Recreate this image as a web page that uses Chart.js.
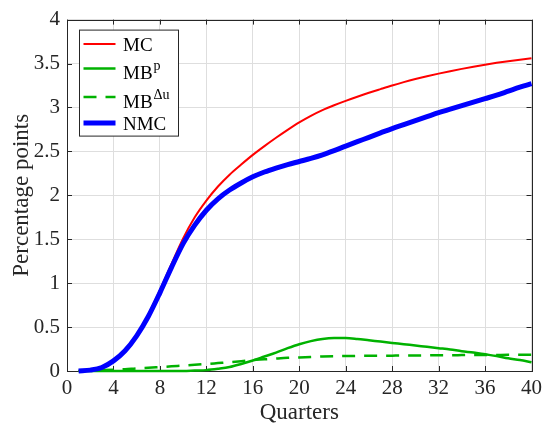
<!DOCTYPE html>
<html>
<head>
<meta charset="utf-8">
<script src="https://cdn.jsdelivr.net/npm/chart.js@4"></script>
<style>
  body { margin: 0; background: #fff; }
  canvas { display: block; }
</style>
</head>
<body>
<canvas id="Mychart" width="547" height="429"></canvas>
<script>
// quarters 1..40
var quarters = [];
for (var q = 1; q <= 40; q++) quarters.push(q);

var mcValues = [0.00, 0.01, 0.045, 0.12, 0.24, 0.41, 0.64, 0.92, 1.22, 1.51,
                1.75, 1.94, 2.10, 2.235, 2.35, 2.46, 2.56, 2.655, 2.745, 2.83,
                2.905, 2.97, 3.025, 3.075, 3.122, 3.167, 3.209, 3.25, 3.288, 3.323,
                3.355, 3.385, 3.413, 3.439, 3.464, 3.487, 3.508, 3.527, 3.544, 3.56];
var mbpValues = [0, 0, 0, 0, 0, 0, 0, 0, 0, 0,
                 0.005, 0.01, 0.025, 0.045, 0.08, 0.12, 0.165, 0.21, 0.26, 0.305,
                 0.34, 0.365, 0.375, 0.375, 0.365, 0.35, 0.335, 0.32, 0.305, 0.29,
                 0.275, 0.26, 0.245, 0.225, 0.21, 0.19, 0.17, 0.145, 0.125, 0.10];
var mbduValues = [0.00, 0.005, 0.01, 0.015, 0.02, 0.03, 0.037, 0.045, 0.053, 0.062,
                  0.07, 0.08, 0.09, 0.10, 0.112, 0.125, 0.133, 0.142, 0.15, 0.155,
                  0.16, 0.165, 0.168, 0.17, 0.172, 0.173, 0.174, 0.175, 0.176, 0.177,
                  0.178, 0.18, 0.18, 0.181, 0.182, 0.182, 0.183, 0.184, 0.184, 0.185];
var nmcValues = [0.00, 0.01, 0.04, 0.115, 0.23, 0.40, 0.62, 0.89, 1.18, 1.45,
                 1.66, 1.83, 1.96, 2.06, 2.14, 2.21, 2.265, 2.31, 2.35, 2.385,
                 2.42, 2.46, 2.508, 2.56, 2.61, 2.66, 2.71, 2.76, 2.805, 2.85,
                 2.895, 2.94, 2.98, 3.02, 3.06, 3.10, 3.14, 3.185, 3.23, 3.27];

var seriesNames = ['MC', 'MB', 'MB', 'NMC'];
var seriesSups = ['', 'p', '\u0394u', ''];

var xTicks = [0, 4, 8, 12, 16, 20, 24, 28, 32, 36, 40];
var yTicks = [0, 0.5, 1, 1.5, 2, 2.5, 3, 3.5, 4];

var axisColor = '#262626';
var gridColor = '#dedede';
var serif = "'Liberation Serif', 'Times New Roman', serif";
var green = 'rgb(0,178,0)';

function toPoints(vals) {
    return vals.map(function(v, i){ return {x: quarters[i], y: v}; });
}

var frame = {
    id: 'frame',
    beforeDatasetsDraw: function(chart) {
        var ctx = chart.ctx, a = chart.chartArea;
        var xs = chart.scales.x, ys = chart.scales.y;
        var tl = 5;
        ctx.save();
        ctx.strokeStyle = axisColor;
        ctx.lineWidth = 1;
        ctx.beginPath();
        xTicks.forEach(function(t){
            var px = Math.round(xs.getPixelForValue(t)) + 0.5;
            ctx.moveTo(px, a.bottom); ctx.lineTo(px, a.bottom - tl);
            ctx.moveTo(px, a.top); ctx.lineTo(px, a.top + tl);
        });
        yTicks.forEach(function(t){
            var py = Math.round(ys.getPixelForValue(t)) + 0.5;
            ctx.moveTo(a.left, py); ctx.lineTo(a.left + tl, py);
            ctx.moveTo(a.right, py); ctx.lineTo(a.right - tl, py);
        });
        ctx.stroke();
        ctx.strokeRect(Math.round(a.left) + 0.5, Math.round(a.top) + 0.5,
                       Math.round(a.right - a.left), Math.round(a.bottom - a.top));
        ctx.restore();
    },
    afterDatasetsDraw: function(chart) {
        // legend with superscripts, drawn by hand
        var ctx = chart.ctx, a = chart.chartArea;
        var bx = a.left + 12.5, by = a.top + 10.5, bw = 99, bh = 106;
        var rowY = [14, 38.5, 67, 93];
        var baseOff = [7, 10.5, 10.5, 7];
        ctx.save();
        ctx.fillStyle = '#fff';
        ctx.fillRect(bx, by, bw, bh);
        ctx.strokeStyle = axisColor;
        ctx.lineWidth = 1;
        ctx.strokeRect(bx, by, bw, bh);
        chart.data.datasets.forEach(function(ds, i){
            var y = by + rowY[i];
            ctx.strokeStyle = ds.borderColor;
            ctx.lineWidth = ds.borderWidth;
            ctx.setLineDash(ds.borderDash || []);
            ctx.beginPath();
            ctx.moveTo(bx + 4, y); ctx.lineTo(bx + 36, y);
            ctx.stroke();
            ctx.setLineDash([]);
            ctx.fillStyle = '#000';
            ctx.textBaseline = 'alphabetic';
            ctx.textAlign = 'left';
            ctx.font = '19px ' + serif;
            var tx = bx + 43.5;
            var base = by + rowY[i] + baseOff[i];
            ctx.fillText(seriesNames[i], tx, base);
            if (seriesSups[i]) {
                var w = ctx.measureText(seriesNames[i]).width;
                ctx.font = '14px ' + serif;
                ctx.fillText(seriesSups[i], tx + w + 1, base - 9);
            }
        });
        ctx.restore();
    }
};

const ctx = document.getElementById('Mychart');

var chart = new Chart(ctx, {
    type: 'line',
    data: {
        datasets: [{
            label: 'MC',
            data: toPoints(mcValues),
            borderColor: '#ff0000',
            borderWidth: 2,
            order: 4
        }, {
            label: 'MBp',
            data: toPoints(mbpValues),
            borderColor: green,
            borderWidth: 2.5,
            order: 3
        }, {
            label: 'MBdu',
            data: toPoints(mbduValues),
            borderColor: green,
            borderWidth: 2.5,
            borderDash: [13, 9],
            order: 2
        }, {
            label: 'NMC',
            data: toPoints(nmcValues),
            borderColor: '#0000ff',
            borderWidth: 5,
            order: 1
        }]
    },
    options: {
        responsive: false,
        animation: false,
        events: [],
        elements: {
            point: { radius: 0 },
            line: { cubicInterpolationMode: 'monotone', fill: false, borderCapStyle: 'butt' }
        },
        datasets: { line: { clip: false } },
        layout: { padding: { top: 14, right: 14, left: 0, bottom: 0 } },
        plugins: {
            legend: { display: false },
            tooltip: { enabled: false }
        },
        scales: {
            x: {
                type: 'linear',
                min: 0,
                max: 40,
                afterFit: function(s){ s.height = 58; },
                afterBuildTicks: function(s){ s.ticks = xTicks.map(function(v){ return {value: v}; }); },
                border: { display: false },
                grid: { color: gridColor, drawTicks: false },
                ticks: {
                    color: axisColor,
                    padding: 5,
                    maxRotation: 0,
                    autoSkip: false,
                    font: { family: serif, size: 21 },
                    callback: function(v){ return String(v); }
                },
                title: {
                    display: true,
                    text: 'Quarters',
                    color: axisColor,
                    padding: { top: 0, bottom: 2 },
                    font: { family: serif, size: 23 }
                }
            },
            y: {
                min: 0,
                max: 4,
                afterFit: function(s){ s.width = 67; },
                afterBuildTicks: function(s){ s.ticks = yTicks.map(function(v){ return {value: v}; }); },
                border: { display: false },
                grid: { color: gridColor, drawTicks: false },
                ticks: {
                    color: axisColor,
                    padding: 7,
                    autoSkip: false,
                    font: { family: serif, size: 21 },
                    callback: function(v){ return String(v); }
                },
                title: {
                    display: true,
                    text: 'Percentage points',
                    color: axisColor,
                    padding: { top: 8, bottom: 0 },
                    font: { family: serif, size: 23 }
                }
            }
        }
    },
    plugins: [frame]
});
</script>
</body>
</html>
